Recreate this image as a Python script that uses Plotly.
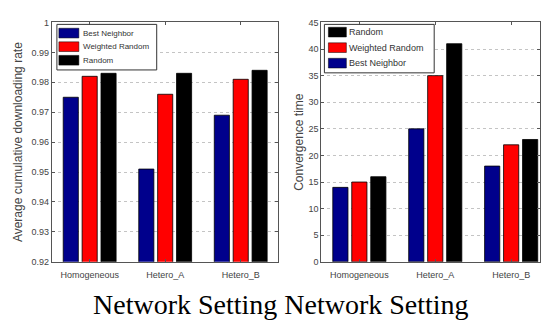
import plotly.graph_objects as go

categories = ["Homogeneous", "Hetero_A", "Hetero_B"]
series_names = ["Best Neighbor", "Weighted Random", "Random"]
colors = {"Best Neighbor": "#00008C", "Weighted Random": "#FF0000", "Random": "#000000"}

rate_values = {
    "Best Neighbor": [0.975, 0.951, 0.969],
    "Weighted Random": [0.982, 0.976, 0.981],
    "Random": [0.983, 0.983, 0.984],
}
time_values = {
    "Best Neighbor": [14, 25, 18],
    "Weighted Random": [15, 35, 22],
    "Random": [16, 41, 23],
}
rate_ticks = [0.92, 0.93, 0.94, 0.95, 0.96, 0.97, 0.98, 0.99, 1.0]
rate_ticktext = ["0.92", "0.93", "0.94", "0.95", "0.96", "0.97", "0.98", "0.99", "1"]
time_ticks = [0, 5, 10, 15, 20, 25, 30, 35, 40, 45]
left_legend_order = ["Best Neighbor", "Weighted Random", "Random"]
right_legend_order = ["Random", "Weighted Random", "Best Neighbor"]

W, H = 541, 325
fig = go.Figure()

for name in series_names:
    fig.add_trace(go.Bar(x=categories, y=rate_values[name], name=name,
                         marker=dict(color=colors[name], line=dict(color="#000", width=0.8)),
                         xaxis="x", yaxis="y", offsetgroup=name, showlegend=False))
for name in series_names:
    fig.add_trace(go.Bar(x=categories, y=time_values[name], name=name,
                         marker=dict(color=colors[name], line=dict(color="#000", width=0.8)),
                         xaxis="x2", yaxis="y2", offsetgroup=name, showlegend=False))

font = "Liberation Sans, Arial, sans-serif"
ax_common = dict(showline=True, linecolor="#555", linewidth=1, mirror="ticks",
                 ticks="inside", ticklen=3, tickcolor="#555",
                 tickfont=dict(size=9, color="#444", family=font))

shapes = []
annotations = []


def px(x):
    return x / W


def py(y):
    return 1 - y / H


def add_legend(box, order, patch_x, text_x, row_ys, fsize):
    x0, y0, x1, y1 = box
    shapes.append(dict(type="rect", xref="paper", yref="paper",
                       x0=px(x0), x1=px(x1), y0=py(y1), y1=py(y0),
                       fillcolor="white", line=dict(color="#333", width=1), layer="above"))
    for name, ry in zip(order, row_ys):
        shapes.append(dict(type="rect", xref="paper", yref="paper",
                           x0=px(patch_x[0]), x1=px(patch_x[1]), y0=py(ry + 5), y1=py(ry - 5),
                           fillcolor=colors[name], line=dict(color="#000", width=0.5), layer="above"))
        annotations.append(dict(text=name, x=px(text_x), y=py(ry), xref="paper", yref="paper",
                                showarrow=False, xanchor="left", yanchor="middle",
                                font=dict(size=fsize, color="#333", family=font)))


add_legend((57, 20, 157, 67), left_legend_order, (59, 79), 81, [29, 43, 57], 8)
add_legend((325, 20, 435, 70), right_legend_order, (329, 347), 348, [28, 44, 60], 9)

annotations.append(dict(text="Network Setting Network Setting", x=282 / W, y=1 - 309 / H,
                        xref="paper", yref="paper", showarrow=False,
                        xanchor="center", yanchor="middle",
                        font=dict(size=28, color="#000", family="Liberation Serif, Times New Roman, serif")))

ydom = [1 - 265 / H, 1 - 18 / H]
fig.update_layout(
    width=W, height=H, margin=dict(l=0, r=0, t=0, b=0),
    paper_bgcolor="white", plot_bgcolor="white",
    barmode="group", bargap=0.25, bargroupgap=0.2,
    showlegend=False,
    xaxis=dict(domain=[52 / W, 279 / W], type="category", range=[-0.5, 2.5],
               showgrid=False, ticklabelstandoff=4, **ax_common),
    yaxis=dict(domain=ydom, range=[0.92, 1.0], tickvals=rate_ticks, ticktext=rate_ticktext,
               showgrid=True, gridcolor="#c4c4c4", griddash="dot", gridwidth=1,
               title=dict(text="Average cumulative downloading rate", standoff=6,
                          font=dict(size=12, color="#444", family=font)),
               **ax_common),
    xaxis2=dict(domain=[322 / W, 1.0], type="category", range=[-0.5, 2.38],
                showgrid=False, anchor="y2", ticklabelstandoff=4, **ax_common),
    yaxis2=dict(domain=ydom, range=[0, 45], tickvals=time_ticks, anchor="x2",
                showgrid=True, gridcolor="#c4c4c4", griddash="dot", gridwidth=1,
                title=dict(text="Convergence time", standoff=2,
                           font=dict(size=12, color="#444", family=font)),
                **ax_common),
    shapes=shapes,
    annotations=annotations,
)

fig.write_html("out.html", post_script="document.body.style.margin='0';",
               config={"displayModeBar": False})
